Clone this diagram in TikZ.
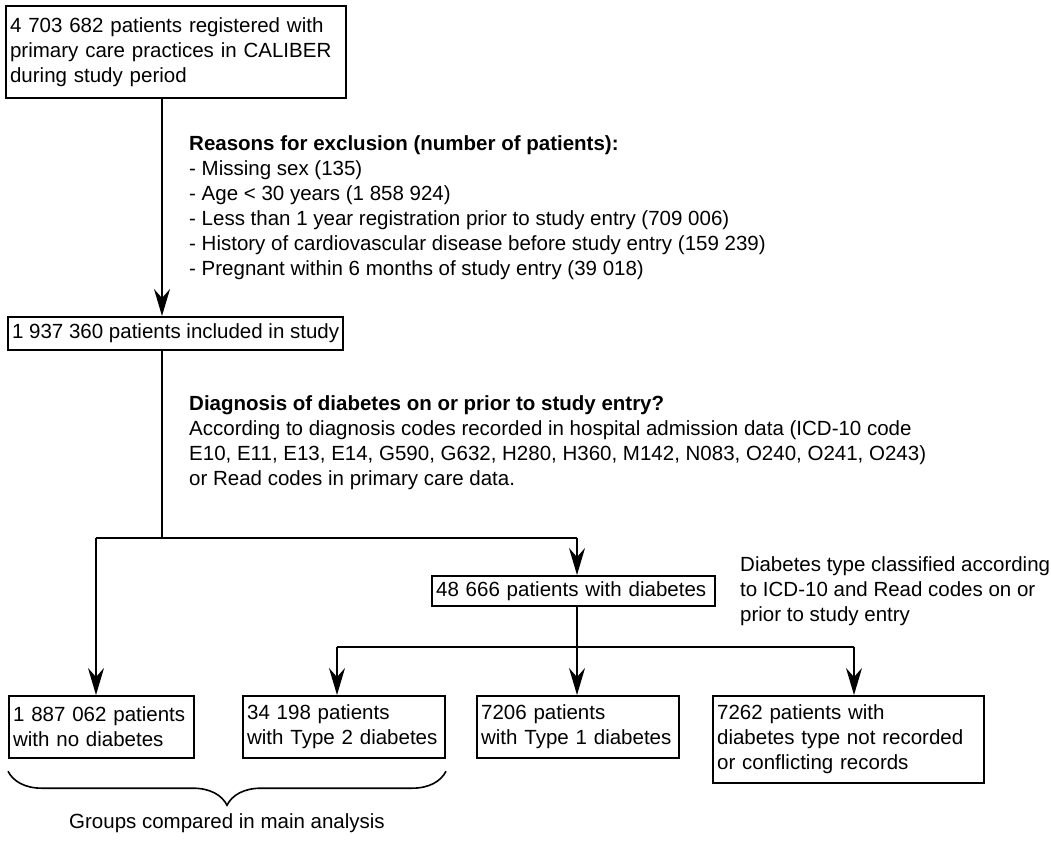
\documentclass[tikz,border=0pt]{standalone}
\usepackage{fontspec}
\setmainfont{Liberation Sans}
\usetikzlibrary{arrows.meta}
\usetikzlibrary{decorations.pathreplacing}

\tikzset{
    box/.style={draw, line width=2.2pt, align=left, anchor=north west, inner xsep=4pt, inner ysep=0pt},
    note/.style={align=left, anchor=north west, inner sep=0pt},
    conn/.style={line width=1.6pt},
    arr/.style={conn, -{Stealth[length=27pt, width=16pt, inset=9pt]}},
    grpbrace/.style={conn, decorate, decoration={brace, mirror, amplitude=34pt}}
}

\begin{document}
\begin{tikzpicture}[x=1pt, y=-1pt, font=\fontsize{20.5}{25}\selectfont]
        \useasboundingbox (0,0) rectangle (1051,840);
        \pgfmathsetmacro{\trunk}{162};
        \pgfmathsetmacro{\lvlA}{538};
        \pgfmathsetmacro{\lvlB}{647};
        % boxes
        \node [box, text width=331.8pt, minimum height=91.8pt] (reg) at (5,5)
            {4 703 682 patients registered with\\primary care practices in CALIBER\\during study period};
        \node [box, minimum height=32.8pt] (incl) at (7,316) {1 937 360 patients included in study};
        \node [box, text width=274.8pt, minimum height=29.8pt] (diab) at (431,575) {48 666 patients with diabetes};
        \node [box, text width=176.8pt, minimum height=62pt] (nodia) at (8,695) {1 887 062 patients\\with no diabetes};
        \node [box, text width=193.8pt, minimum height=62pt] (typ2) at (242,695) {34 198 patients\\with Type 2 diabetes};
        \node [box, text width=193.8pt, minimum height=62pt] (typ1) at (476,695) {7206 patients\\with Type 1 diabetes};
        \node [box, text width=262.8pt, minimum height=87pt] (other) at (712,695)
            {7262 patients with\\diabetes type not recorded\\or conflicting records};
        % notes
        \node [note] (excl) at (189,135) {\textbf{Reasons for exclusion (number of patients):}\\
            - Missing sex (135)\\
            - Age < 30 years (1 858 924)\\
            - Less than 1 year registration prior to study entry (709 006)\\
            - History of cardiovascular disease before study entry (159 239)\\
            - Pregnant within 6 months of study entry (39 018)};
        \node [note] (diag) at (189,395) {\textbf{Diagnosis of diabetes on or prior to study entry?}\\
            According to diagnosis codes recorded in hospital admission data (ICD-10 code\\
            E10, E11, E13, E14, G590, G632, H280, H360, M142, N083, O240, O241, O243)\\
            or Read codes in primary care data.};
        \node [note] (cls) at (740,556) {Diabetes type classified according\\to ICD-10 and Read codes on or\\prior to study entry};
        % connectors
        \coordinate (brL) at (96,\lvlA);
        \coordinate (brR) at (577,\lvlA);
        \coordinate (typL) at (337,\lvlB);
        \coordinate (typR) at (854,\lvlB);
        \draw [arr] (reg.south -| \trunk,0) -- (incl.north -| \trunk,0);
        \draw [conn] (incl.south -| \trunk,0) -- (\trunk,\lvlA);
        \draw [conn] (brL) -- (brR);
        \draw [arr] (brL) -- (brL |- nodia.north);
        \draw [arr] (brR) -- (brR |- diab.north);
        \draw [arr] (diab.south -| brR) -- (typ1.north -| brR);
        \draw [conn] (typL) -- (typR);
        \draw [arr] (typL) -- (typL |- typ2.north);
        \draw [arr] (typR) -- (typR |- other.north);
        % brace
        \draw [grpbrace] ([yshift=-12pt]nodia.south west) -- ([yshift=-12pt]typ2.south east)
            node [midway, below=40pt, inner sep=2pt] (grp) {Groups compared in main analysis};
    \end{tikzpicture}
\end{document}
